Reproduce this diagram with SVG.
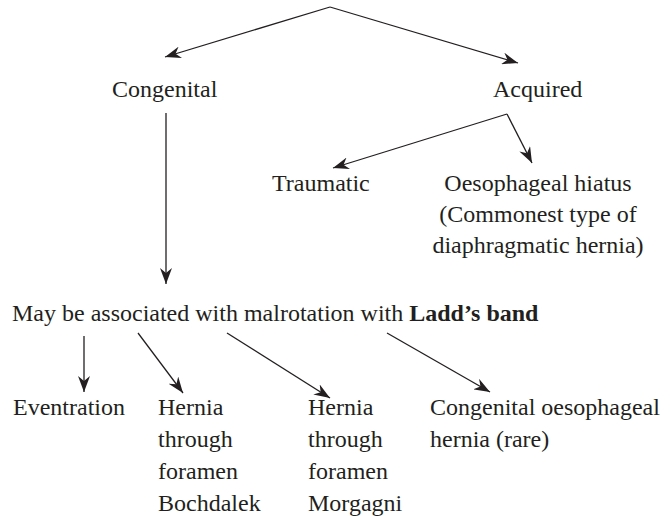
<svg xmlns="http://www.w3.org/2000/svg" width="671" height="516" viewBox="0 0 671 516">
<defs>
<marker id="ah" viewBox="0 0 16 12" refX="16" refY="6" markerWidth="16" markerHeight="12" markerUnits="userSpaceOnUse" orient="auto">
<path d="M0,0 L16,6 L0,12 L5,6 z" fill="#231f20"/>
</marker>
<style>
text{font-family:"Liberation Serif","Times New Roman",serif;font-size:24px;fill:#231f20}
.b{font-weight:bold}
.c{text-anchor:middle}
#connectors line{stroke:#231f20;stroke-width:1.3;marker-end:url(#ah)}
</style>
</defs>
<rect width="671" height="516" fill="#fff"/>
<g id="connectors">
<line x1="330" y1="7" x2="165" y2="57"/>
<line x1="330" y1="7" x2="518" y2="63"/>
<line x1="507" y1="114" x2="333" y2="168"/>
<line x1="507" y1="114" x2="532" y2="163"/>
<line x1="166" y1="113" x2="166" y2="284"/>
<line x1="84" y1="336" x2="84" y2="392"/>
<line x1="138" y1="333" x2="183" y2="393"/>
<line x1="227" y1="333" x2="330" y2="398"/>
<line x1="387" y1="333" x2="490" y2="392"/>
</g>
<g id="congenital"><text x="112" y="97">Congenital</text></g>
<g id="acquired"><text x="493" y="97">Acquired</text></g>
<g id="traumatic"><text x="272" y="191">Traumatic</text></g>
<g id="hiatus"><text class="c" x="538" y="191">Oesophageal hiatus</text><text class="c" x="538" y="222">(Commonest type of</text><text class="c" x="538" y="253">diaphragmatic hernia)</text></g>
<g id="malrotation"><text x="12" y="321">May be associated with malrotation with <tspan class="b">Ladd’s band</tspan></text></g>
<g id="eventration"><text x="13" y="415">Eventration</text></g>
<g id="bochdalek"><text x="158" y="415">Hernia</text><text x="158" y="447">through</text><text x="158" y="479">foramen</text><text x="158" y="511">Bochdalek</text></g>
<g id="morgagni"><text x="308" y="415">Hernia</text><text x="308" y="447">through</text><text x="308" y="479">foramen</text><text x="308" y="511">Morgagni</text></g>
<g id="congoeso"><text x="430" y="415">Congenital oesophageal</text><text x="430" y="447">hernia (rare)</text></g>
</svg>
